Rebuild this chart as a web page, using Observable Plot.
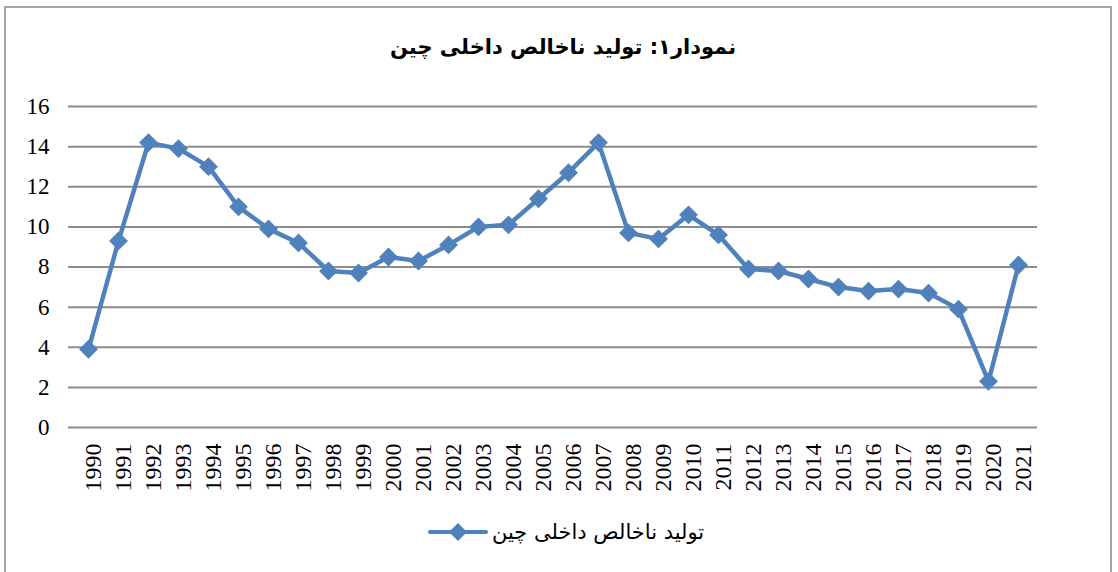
<!DOCTYPE html>
<html>
<head>
<meta charset="utf-8">
<script src="https://cdn.jsdelivr.net/npm/d3@7"></script>
<script src="https://cdn.jsdelivr.net/npm/@observablehq/plot@0.6"></script>
<style>
  html, body { margin: 0; padding: 0; background: #fff; overflow: hidden; }
  #wrap { position: relative; width: 1118px; height: 572px; overflow: hidden; }
  #frame { position: absolute; left: 4px; top: 6px; width: 1108px; height: 620px; border: 2px solid #a6a6a6; box-sizing: border-box; }
  #title { position: absolute; left: 0; width: 1126px; top: 35px; text-align: center; direction: rtl;
           font-family: "DejaVu Sans", sans-serif; font-weight: bold; font-size: 21px; color: #000; }
  #chart { position: absolute; left: 0; top: 0; }
  #legend { position: absolute; left: 428px; top: 520px; display: flex; align-items: center; gap: 4px;
            font-family: "DejaVu Sans", sans-serif; font-size: 21px; color: #000; }
  #legend span { direction: rtl; }
</style>
</head>
<body>
<div id="wrap">
  <div id="frame"></div>
  <div id="chart"></div>
  <div id="title">نمودار۱: تولید ناخالص داخلی چین</div>
  <div id="legend">
    <svg width="60" height="24" viewBox="0 0 60 24">
      <line x1="2" y1="12" x2="58" y2="12" stroke="#4F81BD" stroke-width="4" stroke-linecap="round"></line>
      <path d="M30 3 L39 12 L30 21 L21 12 Z" fill="#4F81BD"></path>
    </svg>
    <span>تولید ناخالص داخلی چین</span>
  </div>
</div>
<script>
const years = ["1990","1991","1992","1993","1994","1995","1996","1997","1998","1999",
               "2000","2001","2002","2003","2004","2005","2006","2007","2008","2009",
               "2010","2011","2012","2013","2014","2015","2016","2017","2018","2019",
               "2020","2021"];
const gdpGrowth = [3.9, 9.3, 14.2, 13.9, 13.0, 11.0, 9.9, 9.2, 7.8, 7.7,
                   8.5, 8.3, 9.1, 10.0, 10.1, 11.4, 12.7, 14.2, 9.7, 9.4,
                   10.6, 9.6, 7.9, 7.8, 7.4, 7.0, 6.8, 6.9, 6.7, 5.9,
                   2.3, 8.1];
const yTicks = [0, 2, 4, 6, 8, 10, 12, 14, 16];
const seriesName = "تولید ناخالص داخلی چین";

const data = years.map((y, i) => ({year: y, value: gdpGrowth[i]}));
const color = "#4F81BD";
const serif = "Liberation Serif";

const chart = Plot.plot({
  width: 1118,
  height: 500,
  marginLeft: 68,
  marginRight: 81,
  marginTop: 106,
  marginBottom: 73,
  style: {background: "transparent", fontFamily: serif},
  x: {type: "point", domain: years, padding: 0.5},
  y: {domain: [0, 16]},
  marks: [
    Plot.ruleY(yTicks, {stroke: "#8c8c8c", strokeWidth: 2}),
    Plot.axisY({ticks: yTicks, tickSize: 0, tickPadding: 19, fontSize: 23, fontFamily: serif, fill: "#000", label: null}),
    Plot.axisX({tickRotate: -90, tickSize: 0, tickPadding: 16, fontSize: 24, fontFamily: serif, fill: "#000", label: null, dx: 5}),
    Plot.line(data, {x: "year", y: "value", stroke: color, strokeWidth: 4.5, strokeLinejoin: "round"}),
    Plot.dot(data, {x: "year", y: "value", symbol: "diamond2", r: 8.5, fill: color, stroke: "none"})
  ]
});
d3.select(chart).selectAll("text").style("font-family", "'Liberation Serif', serif");
document.getElementById("chart").appendChild(chart);
</script>
</body>
</html>
